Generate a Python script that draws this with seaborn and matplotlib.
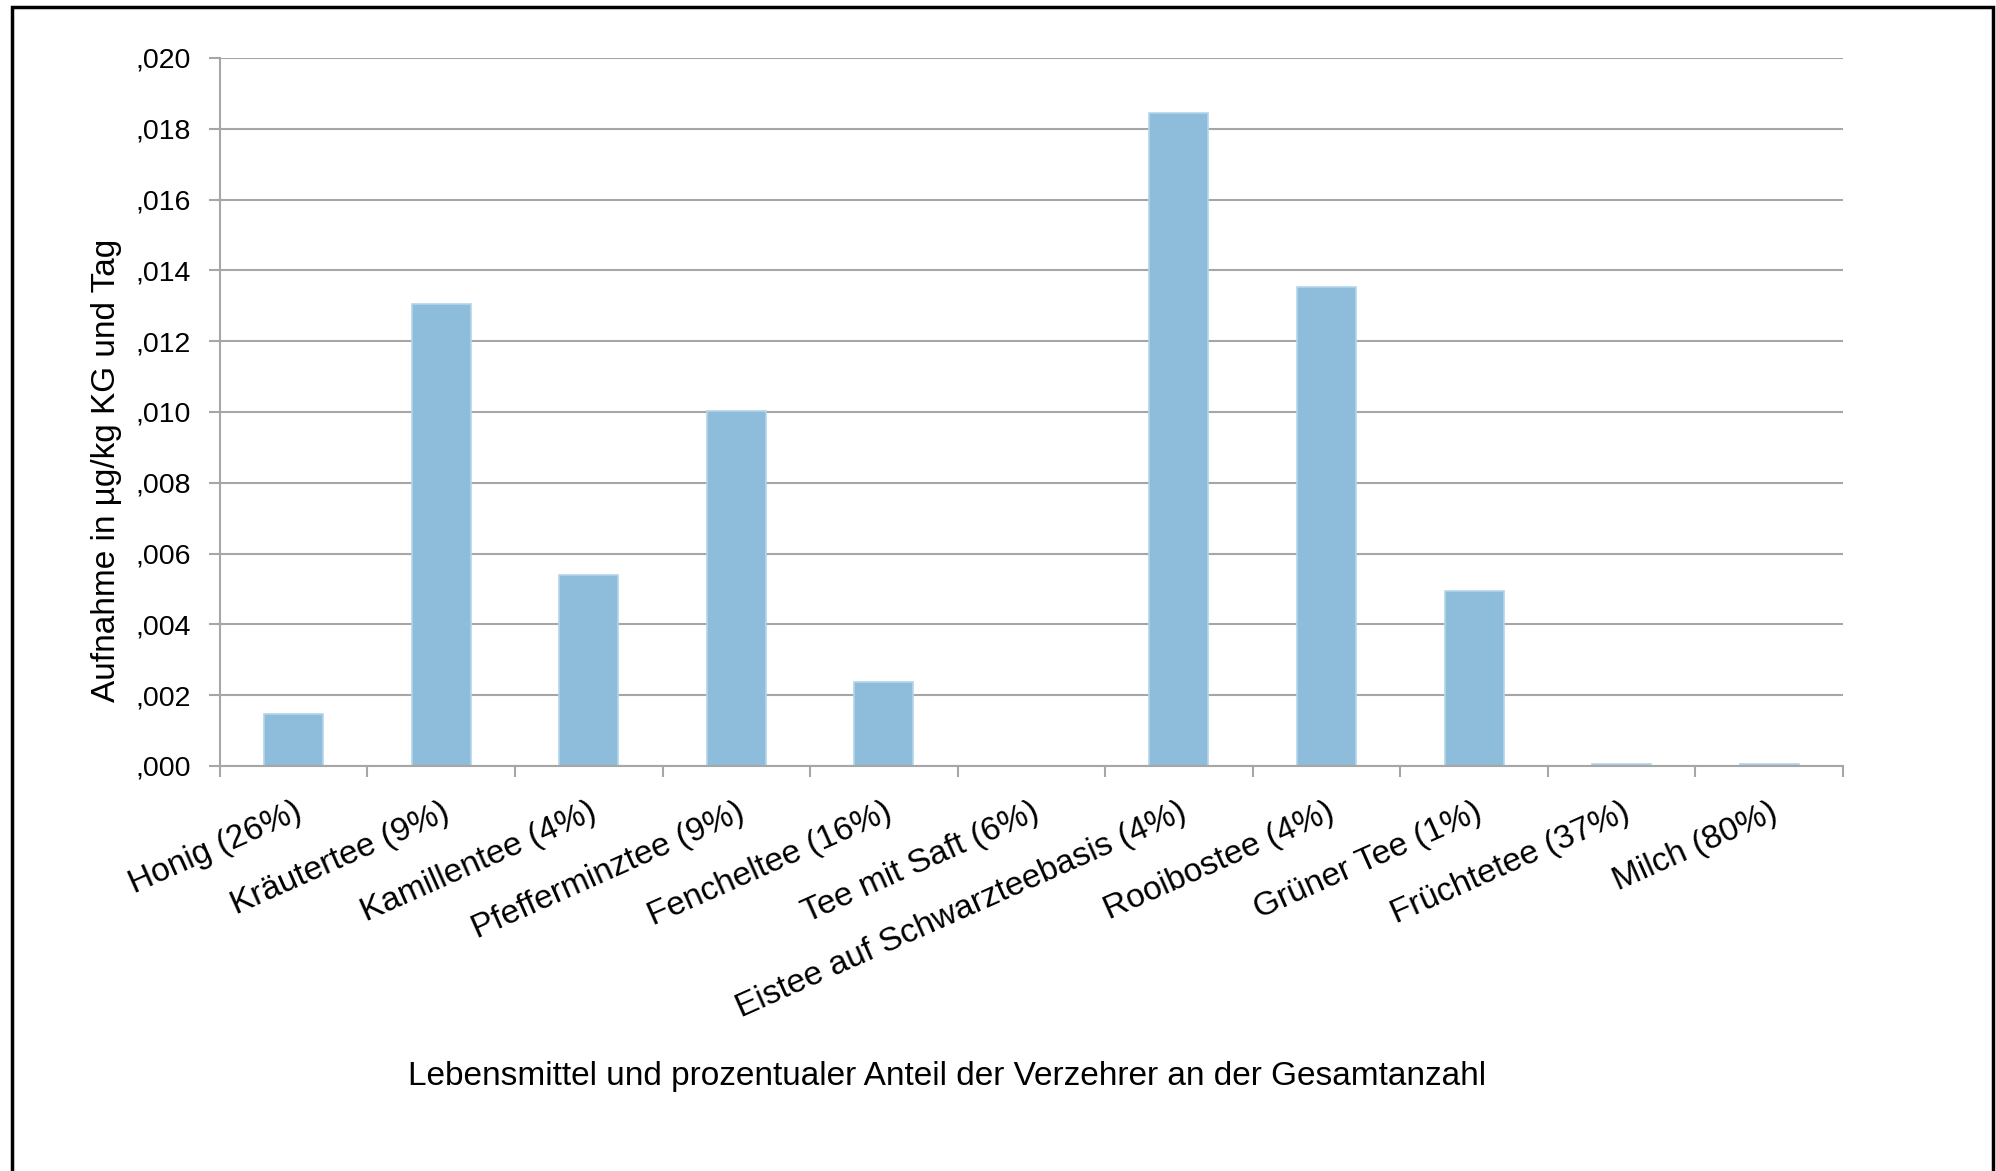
import matplotlib
matplotlib.use("Agg")
import matplotlib.pyplot as plt
from matplotlib.patches import Rectangle
from matplotlib.ticker import FixedLocator, FuncFormatter
import seaborn as sns
import pandas as pd

# Intake per food item (µg/kg body weight and day); share of consumers in brackets
lebensmittel = [
    "Honig (26%)",
    "Kräutertee (9%)",
    "Kamillentee (4%)",
    "Pfefferminztee (9%)",
    "Fencheltee (16%)",
    "Tee mit Saft (6%)",
    "Eistee auf Schwarzteebasis (4%)",
    "Rooibostee (4%)",
    "Grüner Tee (1%)",
    "Früchtetee (37%)",
    "Milch (80%)",
]
aufnahme = [0.00147, 0.01305, 0.00540, 0.01002, 0.00236, 0.0,
            0.01845, 0.01352, 0.00495, 0.00005, 0.00005]
y_ticks = [0.000, 0.002, 0.004, 0.006, 0.008, 0.010,
           0.012, 0.014, 0.016, 0.018, 0.020]

df = pd.DataFrame({"Lebensmittel": lebensmittel, "Aufnahme": aufnahme})

sns.set_theme(style="white")
plt.rcParams["font.family"] = ["Liberation Sans", "DejaVu Sans"]

fig = plt.figure(figsize=(19.96, 11.71), dpi=100)
ax = fig.add_axes([0.1102, 0.3459, 0.8131, 0.6046])

sns.barplot(data=df, x="Lebensmittel", y="Aufnahme", ax=ax, width=0.4,
            color="#8DBDDA", saturation=1, edgecolor="#B3D5EA", linewidth=1.2)

grid_col = "#A6A6A6"
ax.set_ylim(0, 0.020)
ax.set_xlim(-0.5, len(lebensmittel) - 0.5)
ax.yaxis.set_major_locator(FixedLocator(y_ticks))
ax.yaxis.set_major_formatter(FuncFormatter(
    lambda v, p: ("%.3f" % v).replace("0.", ",", 1)))
ax.grid(axis="y", color=grid_col, linewidth=1.5)
ax.set_axisbelow(True)

for s in ["top", "right"]:
    ax.spines[s].set_visible(False)
for s in ["left", "bottom"]:
    ax.spines[s].set_color(grid_col)
    ax.spines[s].set_linewidth(1.5)

# category labels centred, separator ticks between categories
ax.set_xticks(range(len(lebensmittel)))
ax.set_xticklabels(lebensmittel, rotation=24, ha="right", va="top",
                   rotation_mode="anchor", fontsize=24, color="black")
ax.set_xticks([i - 0.5 for i in range(len(lebensmittel) + 1)], minor=True)
ax.tick_params(axis="x", which="major", length=0, pad=22)
ax.tick_params(axis="x", which="minor", length=8, width=1.5, color=grid_col,
               direction="out", bottom=True)
ax.tick_params(axis="y", which="major", length=8, width=1.5, color=grid_col,
               direction="out", left=True, labelsize=20.5, labelcolor="black",
               pad=13)

ax.set_xlabel("")
ax.set_ylabel("")
fig.text(0.4745, 1 - 1077 / 1171,
         "Lebensmittel und prozentualer Anteil der Verzehrer an der Gesamtanzahl",
         ha="center", va="center", fontsize=24, color="black")
fig.text(107 / 1996, 1 - 470 / 1171, "Aufnahme in µg/kg KG und Tag",
         rotation=90, ha="center", va="center", fontsize=24, color="black")

# outer chart frame
fig.patches.append(Rectangle((12 / 1996, -0.05), (1993 - 12) / 1996,
                             1 - 7 / 1171 + 0.05, transform=fig.transFigure,
                             fill=False, edgecolor="black", linewidth=2.5))

fig.savefig("out.png", dpi=100, facecolor="white")
